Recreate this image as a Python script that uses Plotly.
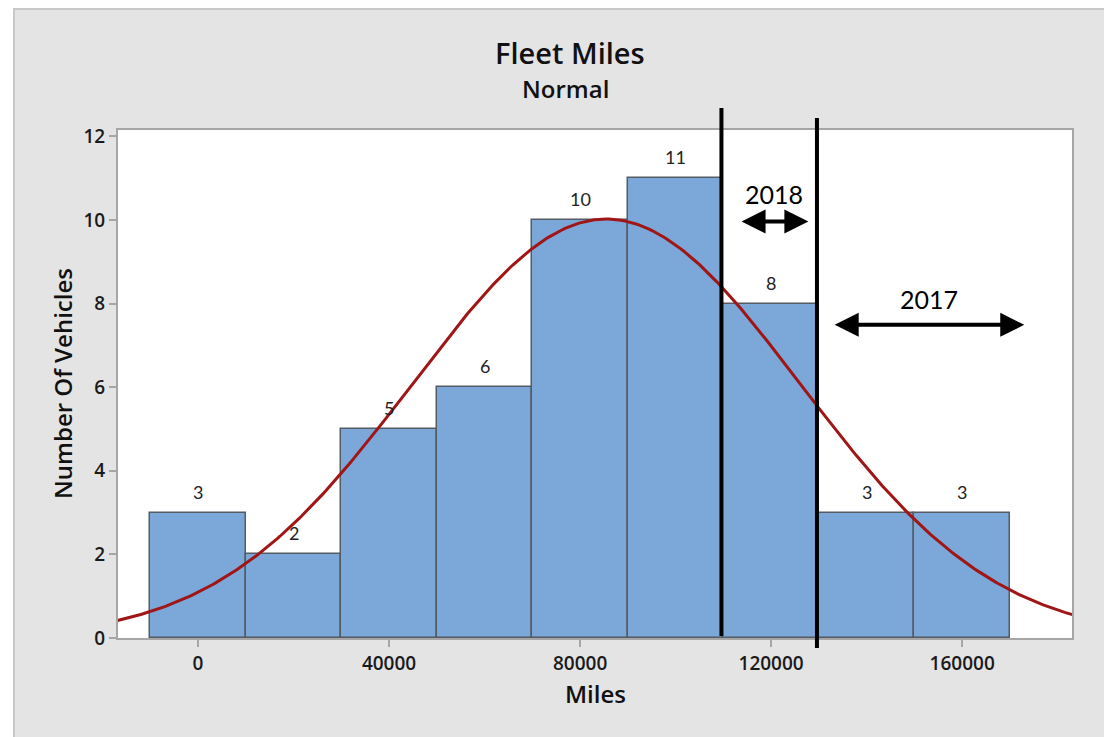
import numpy as np
import plotly.graph_objects as go

# ---- data ----
bin_centers = [0, 20000, 40000, 60000, 80000, 100000, 120000, 140000, 160000]
counts = [3, 2, 5, 6, 10, 11, 8, 3, 3]
bin_width = 20000
x_ticks = [0, 40000, 80000, 120000, 160000]
y_ticks = [0, 2, 4, 6, 8, 10, 12]
marker_lines = [109600, 129600]          # vertical black lines
span_2018 = [113500, 127800]
span_2017 = [133000, 173000]

# ---- normal fit from the histogram ----
c = np.array(bin_centers, float)
f = np.array(counts, float)
n = f.sum()
mean = (c * f).sum() / n
std = np.sqrt(((c - mean) ** 2 * f).sum() / (n - 1))
xc = np.linspace(-17000, 183500, 400)
yc = n * bin_width / (std * np.sqrt(2 * np.pi)) * np.exp(-0.5 * ((xc - mean) / std) ** 2)

OFF = 8  # page body margin
W, H = 1112 - OFF, 737 - OFF
L, R, T, B = 118 - OFF, 1072 - OFF, 130 - OFF, 638 - OFF
def px(xp): return (xp - OFF - L) / (R - L)
def py(yp): return (B - (yp - OFF)) / (B - T)

fig = go.Figure()
fig.add_trace(go.Bar(
    x=bin_centers, y=counts, width=bin_width,
    marker=dict(color="#7ba7d9", line=dict(color="#555b63", width=1.5)),
    hoverinfo="skip", showlegend=False))
fig.add_trace(go.Scatter(
    x=xc, y=yc, mode="lines", line=dict(color="#a01616", width=3),
    hoverinfo="skip", showlegend=False))

tickfont = dict(family="Open Sans", size=19, color="#1a1a1a", weight=600)
fig.update_xaxes(range=[-16750, 183000], tickvals=x_ticks, ticktext=[str(v) for v in x_ticks],
                 ticks="outside", ticklen=7, tickcolor="#a6a6a6", tickwidth=1.5,
                 showline=True, linecolor="#a6a6a6", linewidth=2, mirror=True,
                 showgrid=False, zeroline=False, tickfont=tickfont)
fig.update_yaxes(range=[0, 12.15], tickvals=y_ticks,
                 ticks="outside", ticklen=7, tickcolor="#a6a6a6", tickwidth=1.5,
                 showline=True, linecolor="#a6a6a6", linewidth=2, mirror=True,
                 showgrid=False, zeroline=False, tickfont=tickfont)

ann = []
for x, y in zip(bin_centers, counts):
    ann.append(dict(x=x, y=y, yshift=21, text=str(y), showarrow=False,
                    xanchor="center", yanchor="middle",
                    font=dict(family="Lato", size=18, color="#222222")))
def paper_text(x, y, text, size, angle=0, weight=600):
    return dict(xref="paper", yref="paper", x=px(x), y=py(y), text=text, textangle=angle,
                showarrow=False, xanchor="center", yanchor="middle",
                font=dict(family="Open Sans", size=size, color="#111111", weight=weight))
ann.append(paper_text(570, 52, "Fleet Miles", 29))
ann.append(paper_text(565, 89, "Normal", 24))
ann.append(paper_text(595, 693, "Miles", 24))
ann.append(paper_text(62, 384, "Number Of Vehicles", 24, angle=-90))
# year labels and arrows
ann.append(dict(x=sum(span_2018) / 2, y=10.62, text="2018", showarrow=False,
                xanchor="center", yanchor="middle",
                font=dict(family="Lato", size=25, color="#000000")))
ann.append(dict(x=sum(span_2017) / 2, y=8.10, text="2017", showarrow=False,
                xanchor="center", yanchor="middle",
                font=dict(family="Lato", size=25, color="#000000")))
for (a, b), yy in [(span_2018, 9.96), (span_2017, 7.49)]:
    ann.append(dict(x=b, y=yy, ax=a, ay=yy, axref="x", ayref="y", text="",
                    showarrow=True, arrowhead=2, arrowside="end+start",
                    arrowsize=1.2, arrowwidth=4, arrowcolor="#000000"))

shapes = []
shapes.append(dict(type="line", xref="x", yref="paper", x0=marker_lines[0], x1=marker_lines[0],
                   y0=py(636), y1=py(108), line=dict(color="black", width=4)))
shapes.append(dict(type="line", xref="x", yref="paper", x0=marker_lines[1], x1=marker_lines[1],
                   y0=py(648), y1=py(118), line=dict(color="black", width=4)))
# outer frame: white strip on the left and light border
shapes.append(dict(type="rect", xref="paper", yref="paper", x0=px(0), x1=px(13), y0=py(745), y1=py(0),
                   fillcolor="white", line=dict(width=0), layer="below"))
shapes.append(dict(type="line", xref="paper", yref="paper", x0=px(14), x1=px(14), y0=py(745), y1=py(8),
                   line=dict(color="#c8c8c8", width=2), layer="below"))
shapes.append(dict(type="line", xref="paper", yref="paper", x0=px(14), x1=px(1120), y0=py(9), y1=py(9),
                   line=dict(color="#c8c8c8", width=2), layer="below"))

fig.update_layout(
    width=W, height=H, autosize=False,
    margin=dict(l=L, r=W - R, t=T, b=H - B, pad=0),
    paper_bgcolor="#e4e4e4", plot_bgcolor="white",
    bargap=0, showlegend=False,
    annotations=ann, shapes=shapes,
)
fig.write_html("out.html")
